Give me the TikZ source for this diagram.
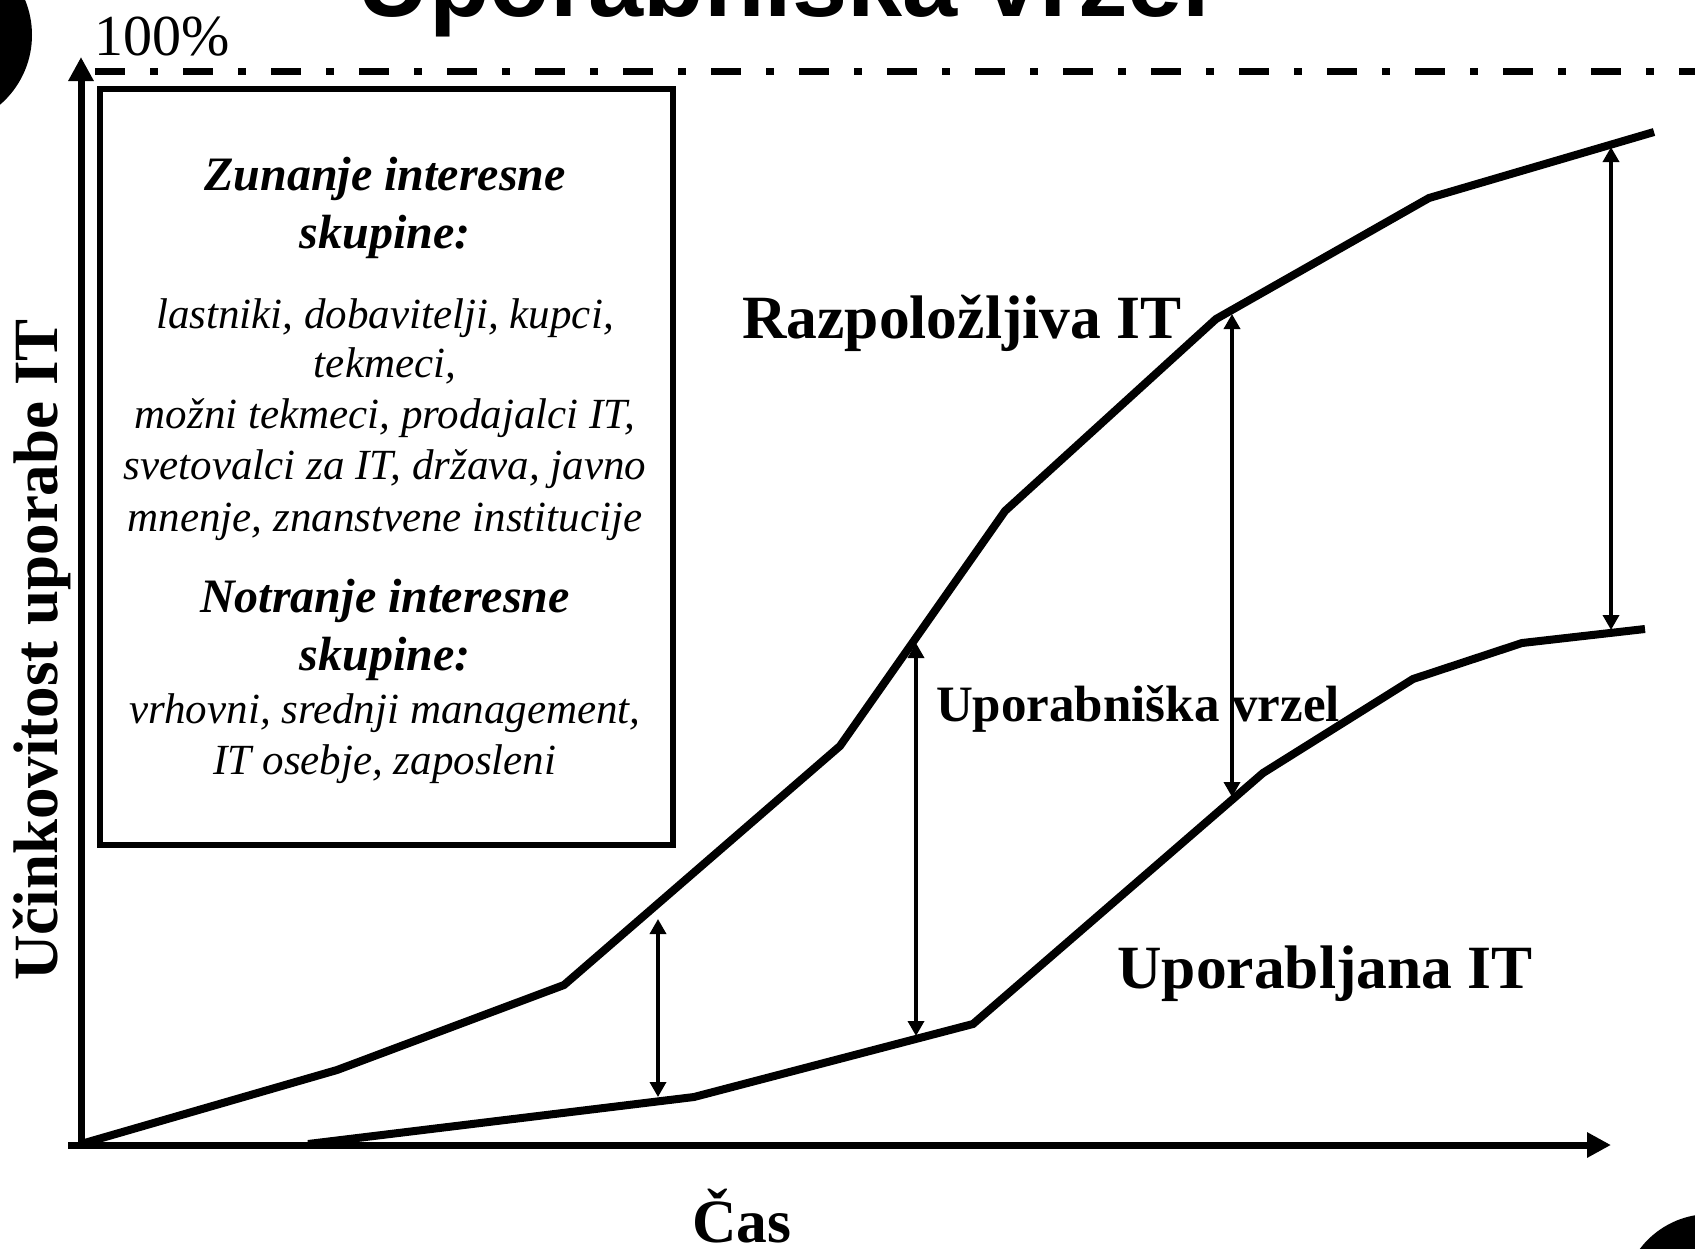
\documentclass[tikz,border=0pt]{standalone}
\usepackage{fontspec}
\setmainfont{Liberation Serif}
\newfontfamily\headfont{Liberation Sans}
\usetikzlibrary{arrows.meta}
\begin{document}
\begin{tikzpicture}[x=1pt,y=-1pt,
  axis/.style={line width=7pt,-{Triangle[length=24pt,width=24pt]}},
  curve/.style={line width=8pt,line join=miter},
  gaparrow/.style={line width=3.5pt,{Triangle[length=15pt,width=16pt]}-{Triangle[length=15pt,width=16pt]}},
  limit/.style={line width=7pt,dash pattern=on 30pt off 25pt on 8pt off 25pt},
  frame/.style={draw,line width=6pt,minimum width=573pt,minimum height=756pt,anchor=north west,inner sep=0pt},
  biglabel/.style={anchor=base,font=\bfseries\fontsize{61.5}{72}\selectfont},
  midlabel/.style={anchor=base,font=\bfseries\fontsize{51}{60}\selectfont},
  boxhead/.style={anchor=base,font=\bfseries\itshape\fontsize{48}{58}\selectfont},
  boxbody/.style={anchor=base,font=\itshape\fontsize{43}{51}\selectfont},
  blob/.style={fill=black}
]
\useasboundingbox (0,0) rectangle (1695,1248);
\clip (0,0) rectangle (1695,1248);

% slide decorations and title
\fill[blob] (-60,35) circle (92);
\fill[blob] (1710,1302) circle (88);
\node[anchor=base,font=\headfont\bfseries\fontsize{99}{110}\selectfont] (title) at (784,16) {Uporabniška vrzel};

% axes
\coordinate (O) at (81,1144);
\coordinate (xstart) at (68,1145);
\coordinate (xend) at (1611,1145);
\coordinate (ytop) at (81,57);
\draw[axis] (xstart) -- (xend);
\draw[axis] (81,1148) -- (ytop);

% 100% level
\coordinate (lstart) at (95,71);
\coordinate (lend) at (1700,71);
\draw[limit] (lstart) -- (lend);
\node[anchor=base,font=\fontsize{58}{64}\selectfont] (full) at (162,55) {100\%};

% available IT
\coordinate (a1) at (337,1070);
\coordinate (a2) at (564,985);
\coordinate (a3) at (840,746);
\coordinate (a4) at (1005,511);
\coordinate (a5) at (1216,319);
\coordinate (a6) at (1429,198);
\coordinate (a7) at (1654,132);
\draw[curve] (O) -- (a1) -- (a2) -- (a3) -- (a4) -- (a5) -- (a6) -- (a7);

% used IT
\coordinate (u0) at (308,1144);
\coordinate (u1) at (694,1097);
\coordinate (u2) at (973,1024);
\coordinate (u3) at (1263,773);
\coordinate (u4) at (1413,679);
\coordinate (u5) at (1522,643);
\coordinate (u6) at (1645,629);
\draw[curve] (u0) -- (u1) -- (u2) -- (u3) -- (u4) -- (u5) -- (u6);

% gap arrows
\coordinate (g1t) at (658,919);  \coordinate (g1b) at (658,1097);
\coordinate (g2t) at (916,643);  \coordinate (g2b) at (916,1036);
\coordinate (g3t) at (1232,314); \coordinate (g3b) at (1232,797);
\coordinate (g4t) at (1611,147); \coordinate (g4b) at (1611,630);
\draw[gaparrow] (g1t) -- (g1b);
\draw[gaparrow] (g2t) -- (g2b);
\draw[gaparrow] (g3t) -- (g3b);
\draw[gaparrow] (g4t) -- (g4b);

% curve and axis labels
\node[biglabel] (avail) at (962,338) {Razpoložljiva IT};
\node[midlabel] (gap) at (1138,721) {Uporabniška vrzel};
\node[biglabel] (used) at (1325,988) {Uporabljana IT};
\node[biglabel] (time) at (742,1242) {Čas};
\node[biglabel,rotate=90,font=\bfseries\fontsize{63}{72}\selectfont] (eff) at (57,650) {Učinkovitost uporabe IT};

% stakeholder box
\node[frame] (box) at (97,86) {};
\node[boxhead] (h1) at (385,190) {Zunanje interesne};
\node[boxhead] (h2) at (385,248) {skupine:};
\node[boxbody] (b1) at (385,328) {lastniki, dobavitelji, kupci,};
\node[boxbody] (b2) at (385,377) {tekmeci,};
\node[boxbody] (b3) at (385,428) {možni tekmeci, prodajalci IT,};
\node[boxbody] (b4) at (385,479) {svetovalci za IT, država, javno};
\node[boxbody] (b5) at (385,531) {mnenje, znanstvene institucije};
\node[boxhead] (h3) at (385,612) {Notranje interesne};
\node[boxhead] (h4) at (385,670) {skupine:};
\node[boxbody] (b6) at (385,723) {vrhovni, srednji management,};
\node[boxbody] (b7) at (385,774) {IT osebje, zaposleni};
\end{tikzpicture}
\end{document}
